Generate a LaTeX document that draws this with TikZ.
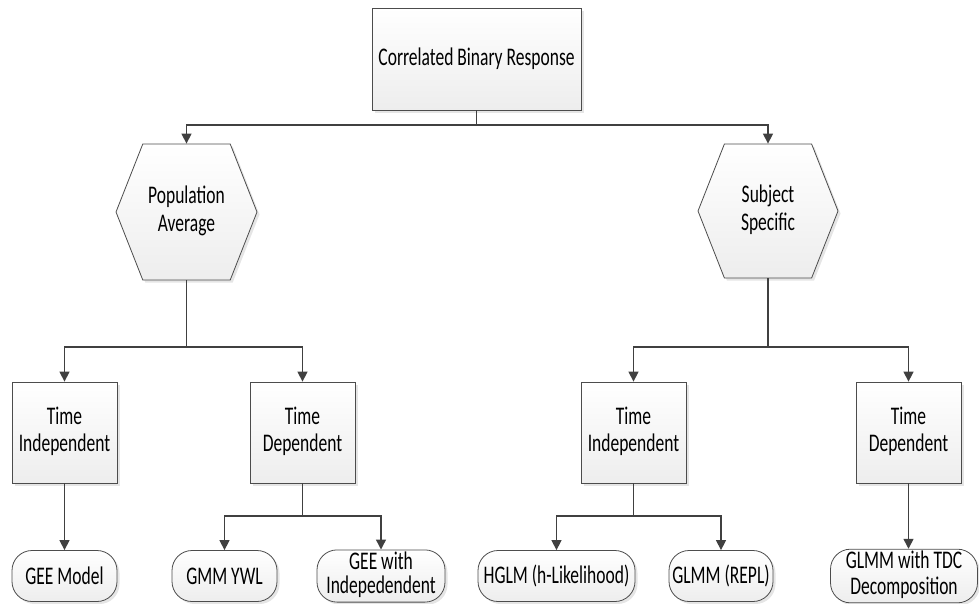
\documentclass[tikz,border=0pt]{standalone}
\usepackage{fontspec}
\setmainfont{Carlito}
\usetikzlibrary{shapes.symbols,shadows,arrows.meta}
\newcommand{\vs}[1]{\scalebox{1}[1.45]{#1}}
\newcommand{\tl}[2]{\vs{\begin{tabular}{@{}c@{}}#1\\#2\end{tabular}}}
\tikzset{
  base/.style={draw=black!70, line width=0.8pt, top color=white, bottom color=black!7,
    drop shadow={shadow xshift=2.5pt, shadow yshift=-2.5pt, fill=black!20, opacity=0.5},
    font=\fontsize{17.5}{19}\selectfont, inner sep=0pt, align=center},
  box/.style={base, rectangle, minimum width=105pt, minimum height=101pt},
  hexa/.style={base, signal, signal to=west and east, signal pointer angle=137,
    minimum width=141pt, minimum height=136pt},
  term/.style={base, rounded corners=20pt, minimum height=51pt},
  arr/.style={draw=black!75, line width=1.4pt, -{Triangle[length=10pt,width=10pt]}},
  ln/.style={draw=black!75, line width=1.4pt}
}
\begin{document}
\begin{tikzpicture}[x=1pt,y=-1pt]
\useasboundingbox (0,0) rectangle (979,603);
\node[box, minimum width=209pt, minimum height=102pt] (top) at (476.5,59) {\vs{Correlated Binary Response}};
\node[hexa] (pa) at (186.5,212) {\tl{Population}{Average}};
\node[hexa, minimum width=140pt, minimum height=134pt] (ss) at (768,211) {\tl{Subject}{Specific}};
\node[box] (til) at (64.5,432.5) {\tl{Time}{Independent}};
\node[box] (tdl) at (302.5,432.5) {\tl{Time}{Dependent}};
\node[box] (tir) at (633.5,432.5) {\tl{Time}{Independent}};
\node[box] (tdr) at (908.5,432.5) {\tl{Time}{Dependent}};
\node[term, minimum width=105pt] (gee) at (64.5,576) {\vs{GEE Model}};
\node[term, minimum width=105pt] (gmm) at (224.5,576) {\vs{GMM YWL}};
\node[term, minimum width=128pt] (geei) at (381,576) {\vs{\begin{tabular}{@{}c@{}}GEE with\\[-2pt]Indepedendent\end{tabular}}};
\node[term, minimum width=157pt] (hglm) at (556.5,576) {\vs{HGLM (h-Likelihood)}};
\node[term, minimum width=104pt] (glmm) at (721,576) {\vs{GLMM (REPL)}};
\node[term, minimum width=147pt] (tdc) at (904,576) {\vs{\begin{tabular}{@{}c@{}}GLMM with TDC\\[-1pt]Decomposition\end{tabular}}};
\coordinate (j0) at (476.5,125);
\coordinate (j1) at (186.5,347);
\coordinate (j2) at (768,347);
\coordinate (j3) at (302.5,516);
\coordinate (j4) at (633.5,516);
\draw[ln] (top.south) -- (j0);
\draw[arr] (j0) -| (pa.north);
\draw[arr] (j0) -| (ss.north);
\draw[ln] (pa.south) -- (j1);
\draw[arr] (j1) -| (til.north);
\draw[arr] (j1) -| (tdl.north);
\draw[ln] (ss.south) -- (j2);
\draw[arr] (j2) -| (tir.north);
\draw[arr] (j2) -| (tdr.north);
\draw[arr] (til.south) -- (gee.north);
\draw[ln] (tdl.south) -- (j3);
\draw[arr] (j3) -| (gmm.north);
\draw[arr] (j3) -| (geei.north);
\draw[ln] (tir.south) -- (j4);
\draw[arr] (j4) -| (hglm.north);
\draw[arr] (j4) -| (glmm.north);
\draw[arr] (tdr.south) -- (tdr.south |- tdc.north);
\end{tikzpicture}
\end{document}
